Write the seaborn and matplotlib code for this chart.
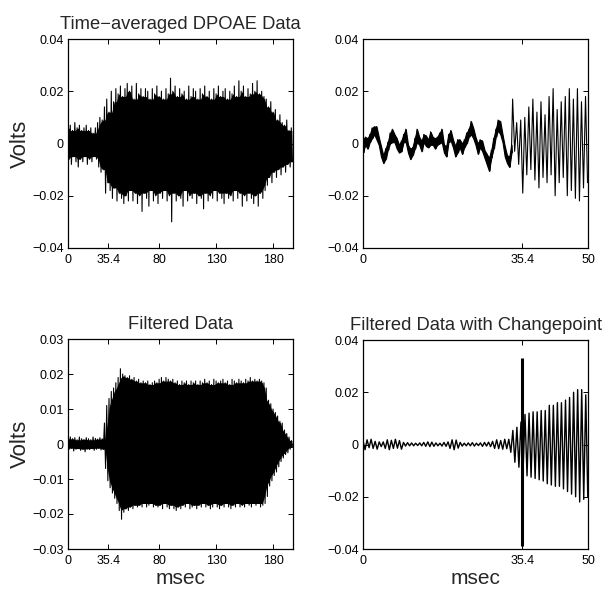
import numpy as np
import pandas as pd
import matplotlib
matplotlib.use("Agg")
import matplotlib.pyplot as plt
import seaborn as sns

# ---------------- data (values in mV; scaled to volts when drawn) ----------------
# Top-left: time-averaged DPOAE data, spike tips every 2 ms (upper / lower)
tl_hi = [6, 7, 5, 8, 6, 7, 5, 6, 7, 5, 6, 4, 6, 8, 10, 9, 14, 17, 12, 20,
         16, 21, 19, 22, 18, 21, 23, 20, 22, 17, 23, 19, 21, 18, 21, 20, 17, 21, 19, 22,
         18, 20, 17, 21, 19, 25, 20, 22, 18, 21, 19, 20, 17, 22, 18, 21, 20, 17, 21, 19,
         22, 18, 20, 17, 21, 19, 22, 18, 20, 21, 17, 20, 19, 22, 18, 24, 20, 22, 18, 21,
         19, 23, 20, 24, 19, 20, 18, 17, 14, 16, 12, 13, 9, 11, 8, 7, 9, 5, 6]
tl_lo = [-6, -8, -5, -7, -9, -6, -7, -5, -8, -6, -7, -5, -6, -9, -11, -10, -19, -15, -18, -21,
         -17, -22, -19, -21, -23, -20, -22, -18, -22, -19, -23, -20, -26, -19, -21, -24, -18, -22, -20, -23,
         -19, -21, -18, -22, -20, -30, -19, -22, -20, -21, -24, -18, -22, -20, -21, -19, -23, -20, -21, -25,
         -19, -22, -20, -21, -18, -22, -19, -21, -23, -19, -21, -20, -22, -18, -21, -19, -24, -20, -22, -19,
         -21, -23, -20, -24, -19, -21, -18, -16, -13, -15, -11, -13, -10, -12, -9, -11, -8, -9, -7]
tl_step = 2.0

# Top-right: zoom 0-50 ms; slow noisy wander (0-33 ms, every 0.5 ms) and its band half-width
tr_mid = [-1, 1, 0, 2, 4, 5, 4, 1, -3, -6, -4, -1, 2, 3, 2, 0, -2, -1, 2, 3,
          -2, -4, -3, 0, 3, 1, -1, 2, 1, 0, 2, 1, 0, 1, 2, 3, -2, -3, 2, 3,
          0, -3, -1, 0, -2, 0, 2, 4, 6, 4, 1, -2, 0, -1, -4, -6, -8, -4, 0, 4,
          7, 6, 2, -3, -6, -7, -2]
tr_half = [2.5, 1.5, 2, 1.5, 2, 1.5, 2.5, 1.5, 2, 1.5, 2, 1.5, 2, 2.5, 1.5, 2, 1.5, 2, 1.5, 2.5,
           1.5, 2, 1.5, 2, 2.5, 1.5, 2, 1.5, 2, 1.5, 2.5, 1.5, 2, 1.5, 2, 2.5, 1.5, 2, 1.5, 2,
           1.5, 2, 2.5, 1.5, 2, 1.5, 2, 1.5, 2.5, 2, 1.5, 2, 1.5, 2, 1.5, 2, 2.5, 1.5, 2, 1.5,
           2, 2.5, 1.5, 2, 1.5, 2, 1.5]
tr_step = 0.5
# ... then the oscillation: alternating extremes every 0.45 ms from 33.25 ms
tr_osc = [17, -3, 8, -8, 9, -19, 10, -12, 14, -10, 17, -14, 12, -17, 16, -13, 11, -15, 18, -12,
          21, -20, 13, -15, 16, -13, 18, -20, 21, -18, 17, -21, 21, -22, 16, -17, 18, -15]
tr_osc_start = 33.25
osc_step = 0.45

# Bottom-left: filtered data envelope every 2 ms
bl_hi = [1.5, 2, 1.5, 1.8, 1.2, 2, 1.5, 1.3, 1.8, 1.5, 1.2, 2, 1.6, 1.4, 1.8, 1.5,
         6, 11, 13, 15, 16, 17.5, 19, 21.5, 20, 19.5, 19, 19.5, 18.5, 19, 18, 18.5, 17.5, 18,
         17.5, 18, 17, 17.5, 18, 17.5, 18.5, 19, 18, 19, 18.5, 18, 18.5, 17.5, 18, 17, 18,
         17.5, 18, 17, 18, 17.5, 18, 17, 18, 17.5, 18.5, 17.5, 18, 17, 18.5, 18, 17.5, 18,
         18.5, 17.5, 18, 17, 18.5, 18, 17.5, 18.5, 18, 17.5, 18.5, 18, 19, 18, 18.5, 18,
         18.5, 18, 17.5, 16, 12.5, 11.5, 10, 9, 8, 6.5, 6, 4, 3, 2, 1]
bl_lo = [-1.5, -1.2, -2, -1.5, -1.3, -1.8, -1.5, -2.2, -1.4, -1.6, -1.3, -1.8, -1.5, -1.2, -1.7, -1.5,
         -7, -10.5, -12.5, -14, -15.5, -17, -19, -21.5, -19.5, -18.5, -19, -18, -18.5, -17.5, -18,
         -17.5, -18, -17, -18, -17.5, -17, -18, -17.5, -18, -17.5, -18.5, -17, -18, -18.5, -17.5,
         -18.5, -19, -18, -18.5, -17.5, -18, -17, -18.5, -18, -17.5, -18.5, -17.5, -18, -17, -18,
         -17.5, -18.5, -18, -17, -18, -18.5, -17.5, -18, -17, -18, -18.5, -17.5, -18, -17, -18,
         -17.5, -18, -17, -17.5, -18, -17, -17.5, -17, -18, -17.5, -17, -15, -12, -10.5, -9, -8,
         -6.5, -5, -4, -3, -2.5, -1.5, -1]

# Bottom-right: filtered data 0-50 ms, alternating extremes every 0.45 ms
br_y = [1.5, -2, 1.8, -1.2, 2, -1.5, 1.2, -1.8,
        1, -0.8, 1,
        -1.5, 1.8, -2, 1.6, -1.5, 2, -1.4, 1.5, -1.8,
        0.8, -0.6, 0.7, -0.5, 0.6, -0.5, 0.5, -0.4, 0.6, -0.5, 0.8, -0.7, 1, -0.8, 0.9, -0.7,
        0.6, -0.5, 0.5, -0.6, 0.8, -0.7, 1,
        -1.5, 1.8, -2, 1.7, -1.4,
        0.8, -0.6, 0.5, -0.5, 0.6, -0.5, 0.7, -0.6, 0.5, -0.4, 0.6, -0.7, 0.8, -0.6, 0.9, -0.8,
        1.2, -1.5, 1.8, -1.6, 1.5, -1.8, 2, -1.6, 2,
        -3, 5.4, -6.8, 6.6, -8.7, 8.6, -11, 11.5, -12, 12, -12.5, 12.5, -13, 12.5, -13.5, 13,
        -14, 13, -15, 15, -15.5, 15, -16, 16, -16, 16, -17, 17, -18, 18, -19, 20, -20, 21,
        -22, 21, -21, 19, -20]
changepoint = 35.4
cp_lo, cp_hi = -0.039, 0.033

# axes text
titles = ["Time\u2212averaged DPOAE Data", "", "Filtered Data", "Filtered Data with Changepoint"]
full_xticks = [0, 35.4, 80, 130, 180]
full_xlabels = ["0", "35.4", "80", "130", "180"]
zoom_xticks = [0, 35.4, 50]
zoom_xlabels = ["0", "35.4", "50"]
yt4 = [-0.04, -0.02, 0, 0.02, 0.04]
yl4 = ["\u22120.04", "\u22120.02", "0", "0.02", "0.04"]
yt3 = [-0.03, -0.02, -0.01, 0, 0.01, 0.02, 0.03]
yl3 = ["\u22120.03", "\u22120.02", "\u22120.01", "0", "0.01", "0.02", "0.03"]

# ---------------- style ----------------
sns.set_theme(style="white")
plt.rcParams.update({
    "font.family": ["Liberation Sans", "DejaVu Sans"],
    "xtick.direction": "in", "ytick.direction": "in",
    "xtick.top": True, "ytick.right": True,
    "xtick.bottom": True, "ytick.left": True,
    "xtick.major.size": 3.5, "ytick.major.size": 3.5,
    "xtick.major.width": 0.7, "ytick.major.width": 0.7,
    "axes.edgecolor": "black", "axes.linewidth": 0.9,
    "xtick.color": "black", "ytick.color": "black",
    "xtick.labelsize": 9, "ytick.labelsize": 9,
})

def zigzag(hi, lo, step, start=0.0):
    hi = np.asarray(hi, float) * 1e-3
    lo = np.asarray(lo, float) * 1e-3
    t = start + np.arange(len(hi)) * step
    x = np.empty(2 * len(hi)); y = np.empty(2 * len(hi))
    x[0::2] = t; x[1::2] = t + step / 2
    y[0::2] = hi; y[1::2] = lo
    return x, y

def core(hi, lo, step):
    # solid inner band: the lowest of neighbouring upper tips / highest of lower tips
    h = pd.Series(np.asarray(hi, float) * 1e-3).rolling(3, center=True, min_periods=1).min()
    l = pd.Series(np.asarray(lo, float) * 1e-3).rolling(3, center=True, min_periods=1).max()
    t = np.arange(len(hi)) * step
    return t, l.values, h.values

W, H = 607, 598
fig = plt.figure(figsize=(W / 100, H / 100), dpi=100)
def box(l, t, r, b):
    return [l / W, 1 - b / H, (r - l) / W, (b - t) / H]
ax_tl = fig.add_axes(box(68, 39, 293, 248))
ax_tr = fig.add_axes(box(363, 39, 588, 248))
ax_bl = fig.add_axes(box(68, 339, 293, 549))
ax_br = fig.add_axes(box(363, 340, 588, 549))

lw = 0.8
# top-left
x, y = zigzag(tl_hi, tl_lo, tl_step)
sns.lineplot(x=x, y=y, ax=ax_tl, color="black", lw=lw, sort=False, estimator=None)
t, l, h = core(tl_hi, tl_lo, tl_step)
ax_tl.fill_between(t + tl_step / 4, l, h, color="black", lw=0)

# top-right
t1 = np.arange(len(tr_mid)) * tr_step
mid = np.asarray(tr_mid, float) * 1e-3
half = np.asarray(tr_half, float) * 1e-3
ax_tr.fill_between(t1, mid - half, mid + half, color="black", lw=0.8, edgecolor="black")
# jagged edge of the band: zig-zag between its upper and lower edges
zx, zy = zigzag((mid + half) * 1e3, (mid - half) * 1e3, tr_step)
sns.lineplot(x=zx, y=zy, ax=ax_tr, color="black", lw=0.7, sort=False, estimator=None)
t2 = tr_osc_start + np.arange(len(tr_osc)) * osc_step
xx = np.concatenate([t1[-1:], t2]); yy = np.concatenate([mid[-1:], np.asarray(tr_osc) * 1e-3])
sns.lineplot(x=xx, y=yy, ax=ax_tr, color="black", lw=lw, sort=False, estimator=None)

# bottom-left
x, y = zigzag(bl_hi, bl_lo, tl_step)
sns.lineplot(x=x, y=y, ax=ax_bl, color="black", lw=lw, sort=False, estimator=None)
t, l, h = core(bl_hi, bl_lo, tl_step)
ax_bl.fill_between(t + tl_step / 4, l, h, color="black", lw=0)

# bottom-right
tb = np.arange(len(br_y)) * osc_step
sns.lineplot(x=tb, y=np.asarray(br_y) * 1e-3, ax=ax_br, color="black", lw=1.0, sort=False, estimator=None)
ax_br.vlines(changepoint, cp_lo, cp_hi, color="black", lw=2.2)

for ax, title in zip([ax_tl, ax_tr, ax_bl, ax_br], titles):
    ax.set_title(title, fontsize=13.2, pad=7)
    for s in ax.spines.values():
        s.set_visible(True); s.set_color("black")
    ax.set_xlabel(""); ax.set_ylabel("")
    ax.tick_params(axis="x", which="major", pad=4)
    ax.tick_params(axis="y", which="major", pad=3)

ax_tl.set_xlim(0, 197.5); ax_bl.set_xlim(0, 197.5)
ax_tr.set_xlim(0, 50); ax_br.set_xlim(0, 50)
for ax in [ax_tl, ax_bl]:
    ax.set_xticks(full_xticks, full_xlabels)
for ax in [ax_tr, ax_br]:
    ax.set_xticks(zoom_xticks, zoom_xlabels)
for ax in [ax_tl, ax_tr, ax_br]:
    ax.set_ylim(-0.04, 0.04); ax.set_yticks(yt4, yl4)
ax_bl.set_ylim(-0.03, 0.03); ax_bl.set_yticks(yt3, yl3)

ax_tl.set_ylabel("Volts", fontsize=16, labelpad=1)
ax_bl.set_ylabel("Volts", fontsize=16, labelpad=1)
ax_bl.set_xlabel("msec", fontsize=15, labelpad=2)
ax_br.set_xlabel("msec", fontsize=15, labelpad=2)

fig.savefig("out.png", dpi=100)
